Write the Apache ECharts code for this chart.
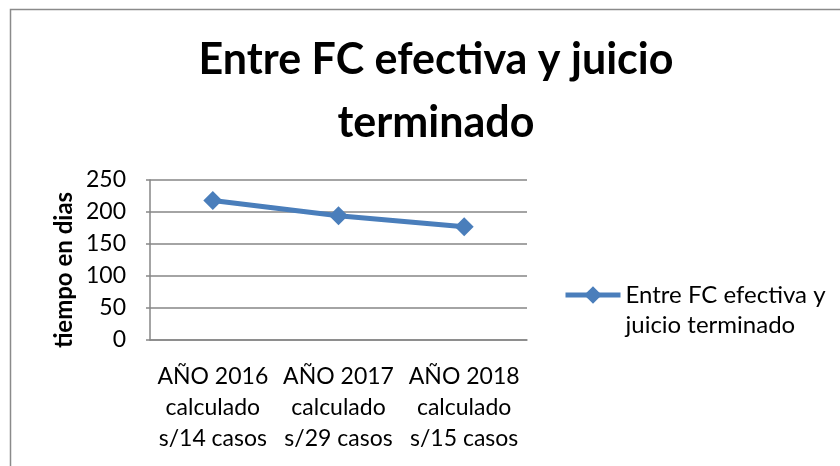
<!DOCTYPE html>
<html>
<head>
<meta charset="utf-8">
<script src="https://cdn.jsdelivr.net/npm/echarts@6/dist/echarts.min.js"></script>
<style>
	html, body { margin: 0; padding: 0; background: #fff; }
	#main { width: 840px; height: 466px; }
</style>
</head>
<body>
<div id="main"></div>
<script>
	'use strict';
	var categories = ['AÑO 2016\ncalculado\ns/14 casos', 'AÑO 2017\ncalculado\ns/29 casos', 'AÑO 2018\ncalculado\ns/15 casos'];
	var dias = [218, 194, 177];
	var yTicks = [0, 50, 100, 150, 200, 250];
	var serieName = 'Entre FC efectiva y juicio terminado';

	var font = 'Lato';
	var chart = echarts.init(document.getElementById('main'));
	var option = {
		backgroundColor: '#fff',
		animation: false,
		title: {
			text: 'Entre FC efectiva y juicio\nterminado',
			left: 431,
			top: 24,
			textAlign: 'center',
			textStyle: {
				fontFamily: font,
				fontWeight: 'bold',
				fontSize: 43,
				lineHeight: 63,
				color: '#000'
			}
		},
		graphic: [{
			type: 'rect',
			shape: { x: 10.5, y: 9.5, width: 900, height: 500 },
			style: { fill: 'none', stroke: '#8a8a8a', lineWidth: 1.5 },
			silent: true
		}],
		legend: {
			data: [serieName],
			left: 558,
			top: 245,
			orient: 'vertical',
			itemWidth: 55,
			itemHeight: 22,
			itemGap: 6,
			lineStyle: { width: 5 },
			// empty first line keeps the icon level with the first text line
			formatter: function () { return ' \nEntre FC efectiva y\njuicio terminado'; },
			textStyle: {
				fontFamily: font,
				fontSize: 24,
				lineHeight: 30,
				color: '#000'
			}
		},
		grid: {
			left: 150,
			right: 313,
			top: 180,
			bottom: 126,
			containLabel: false
		},
		xAxis: {
			type: 'category',
			data: categories,
			boundaryGap: true,
			axisLine: { lineStyle: { color: '#868686', width: 1.5 } },
			axisTick: { show: false },
			axisLabel: {
				fontFamily: font,
				fontSize: 23,
				lineHeight: 31,
				color: '#000',
				margin: 21,
				interval: 0
			}
		},
		yAxis: {
			type: 'value',
			min: yTicks[0],
			max: yTicks[yTicks.length - 1],
			interval: yTicks[1] - yTicks[0],
			name: 'tiempo en dias',
			nameLocation: 'middle',
			nameGap: 74,
			nameTextStyle: {
				fontFamily: font,
				fontWeight: 'bold',
				fontSize: 24,
				color: '#000',
				padding: [0, 20, 0, 0]
			},
			axisLine: { show: true, lineStyle: { color: '#868686', width: 1.5 } },
			axisTick: { show: true, length: 4, lineStyle: { color: '#868686', width: 1.5 } },
			splitLine: { lineStyle: { color: '#868686', width: 1.5 } },
			axisLabel: {
				fontFamily: font,
				fontSize: 23,
				color: '#000',
				margin: 24
			}
		},
		series: [{
			name: serieName,
			type: 'line',
			data: dias,
			symbol: 'diamond',
			symbolSize: 19,
			lineStyle: { color: '#4a7ebb', width: 5 },
			itemStyle: { color: '#4a7ebb' }
		}]
	};
	chart.setOption(option);
</script>
</body>
</html>
